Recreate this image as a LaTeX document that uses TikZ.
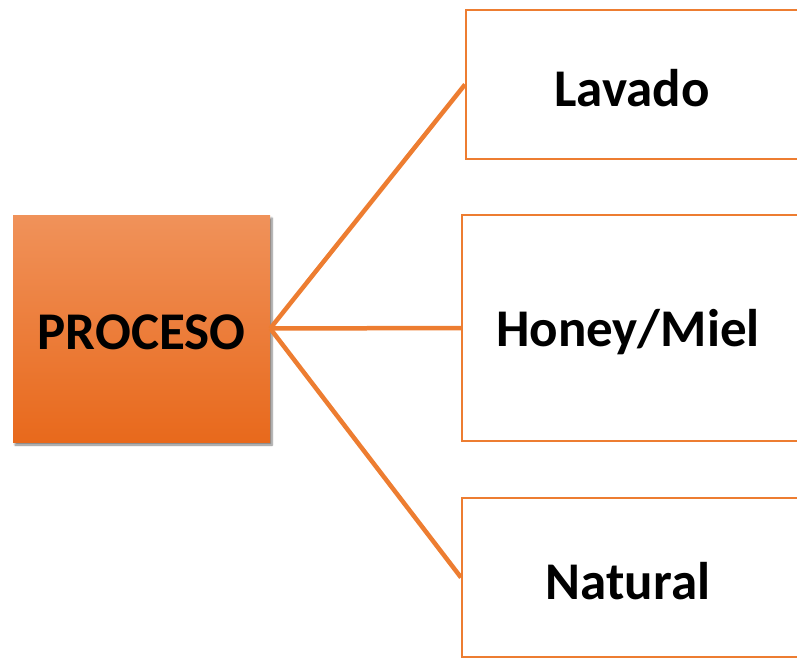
\documentclass[tikz,border=0pt]{standalone}
\usepackage{fontspec}
\setmainfont{Carlito}
\usetikzlibrary{shadows.blur}
\definecolor{orline}{HTML}{ED7D31}
\definecolor{ortop}{HTML}{F0925A}
\definecolor{orbot}{HTML}{E8691C}
\newcommand{\lbl}[1]{\raisebox{-4pt}[\height][\depth]{#1}}
\begin{document}
\begin{tikzpicture}[x=1pt,y=-1pt,
  txt/.style={font=\fontsize{53}{62}\selectfont\bfseries, text=black},
  mainbox/.style={txt, minimum width=257pt, minimum height=227pt, top color=ortop, bottom color=orbot, draw=none,
    blur shadow={shadow xshift=2pt, shadow yshift=-3pt, shadow blur steps=6, shadow blur extra rounding=0pt, shadow opacity=50}},
  outbox/.style={txt, draw=orline, line width=2pt, fill=white, minimum width=336pt},
  conn/.style={draw=orline, line width=4.5pt}]
\useasboundingbox (0,0) rectangle (797,658);
\node[mainbox] (proc) at (141.5,328.5) {\lbl{PROCESO}};
\node[outbox, minimum height=149pt, anchor=west] (lav) at (465,84.5) {\hspace*{-4pt}\lbl{Lavado}};
\node[outbox, minimum height=226pt, anchor=west] (hon) at (461,328) {\hspace*{-4pt}\lbl{Honey/Miel}};
\node[outbox, minimum height=159pt, anchor=west] (nat) at (461,577.5) {\hspace*{-4pt}\lbl{Natural}};
\draw[conn] (proc.east) -- (lav.west);
\draw[conn] (proc.east) -- (hon.west);
\draw[conn] (proc.east) -- (nat.west);
\end{tikzpicture}
\end{document}
